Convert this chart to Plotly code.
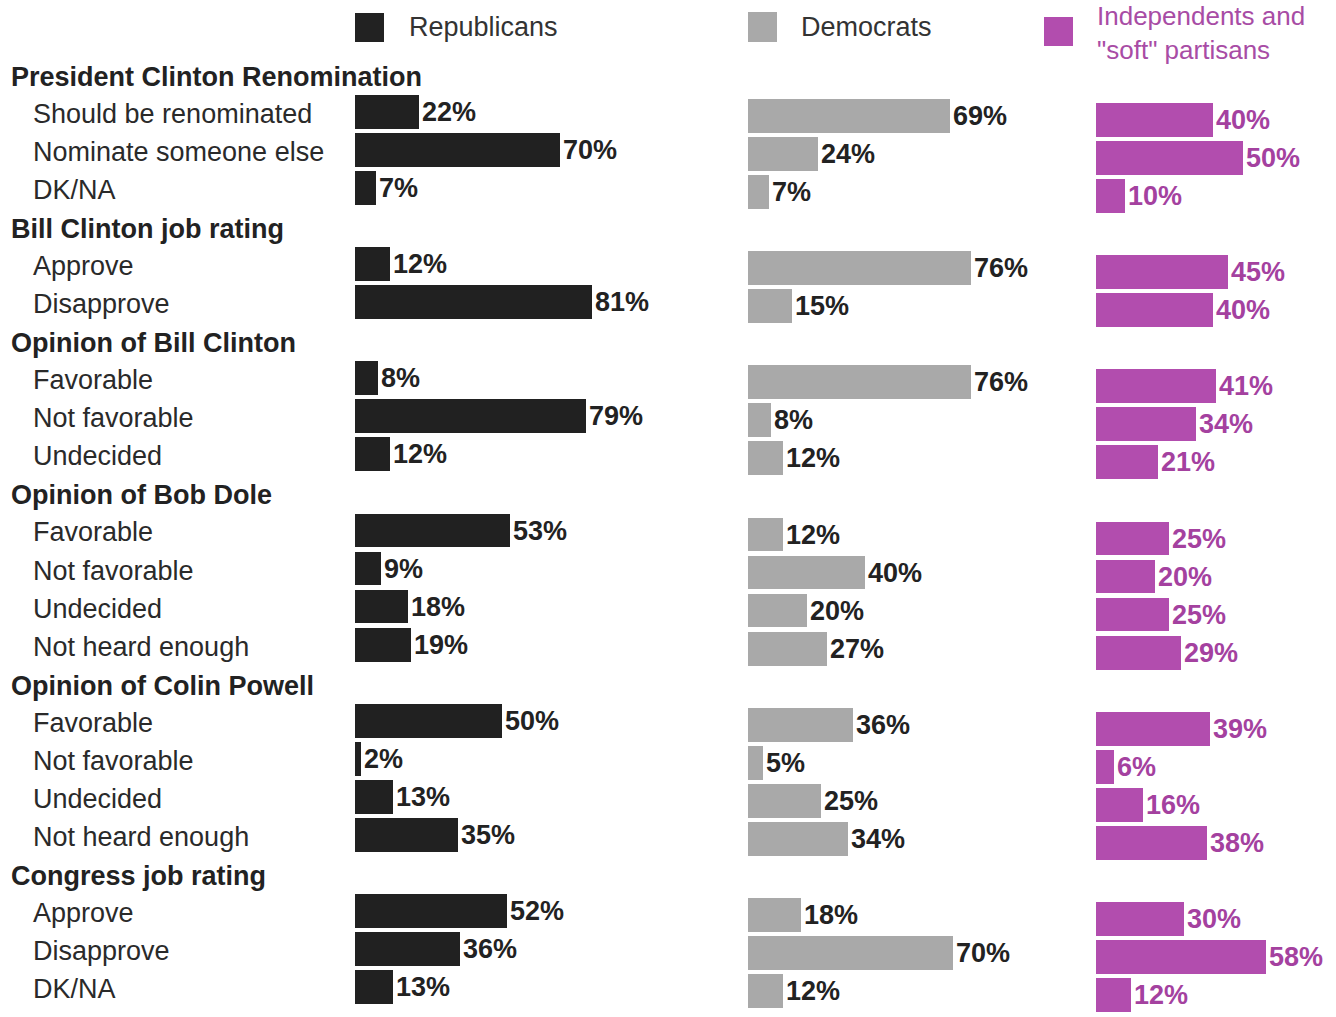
import plotly.graph_objects as go

# Survey results by party affiliation (percent)
groups = [
    "President Clinton Renomination",
    "Bill Clinton job rating",
    "Opinion of Bill Clinton",
    "Opinion of Bob Dole",
    "Opinion of Colin Powell",
    "Congress job rating",
]
group_items = [
    ["Should be renominated", "Nominate someone else", "DK/NA"],
    ["Approve", "Disapprove"],
    ["Favorable", "Not favorable", "Undecided"],
    ["Favorable", "Not favorable", "Undecided", "Not heard enough"],
    ["Favorable", "Not favorable", "Undecided", "Not heard enough"],
    ["Approve", "Disapprove", "DK/NA"],
]
republicans = [22, 70, 7, 12, 81, 8, 79, 12, 53, 9, 18, 19, 50, 2, 13, 35, 52, 36, 13]
democrats = [69, 24, 7, 76, 15, 76, 8, 12, 12, 40, 20, 27, 36, 5, 25, 34, 18, 70, 12]
independents = [40, 50, 10, 45, 40, 41, 34, 21, 25, 20, 25, 29, 39, 6, 16, 38, 30, 58, 12]
series_names = ["Republicans", "Democrats", "Independents and<br>\"soft\" partisans"]

W, H = 1336, 1017
FONT = "Liberation Sans, Arial, Helvetica, sans-serif"
ROW0, ROW_STEP = 77.0, 38.04      # pixel centre of first row, row pitch
PX_PER_PCT = 2.93

# row index for every header / item line
header_rows, item_rows = [], []
r = 0
for items in group_items:
    header_rows.append(r)
    r += 1
    for _ in items:
        item_rows.append(r)
        r += 1
item_labels = [it for items in group_items for it in items]


def px(x):
    return x / W


def py(y):
    return 1 - y / H


def y_range(shift):
    top = -(ROW0 + shift) / ROW_STEP
    bottom = (H - ROW0 - shift) / ROW_STEP
    return [bottom, top]


panels = [
    # values, bar colour, label colour, left pixel, vertical shift, x max
    (republicans, "#212121", "#222222", 355, -3, 90),
    (democrats, "#a9a9a9", "#222222", 748, 1, 90),
    (independents, "#b24dae", "#a4419f", 1096, 5, 80),
]

fig = go.Figure()
layout_axes = {}
for i, (vals, bar_col, txt_col, x0, shift, xmax) in enumerate(panels, start=1):
    sfx = "" if i == 1 else str(i)
    fig.add_trace(go.Bar(
        x=vals, y=item_rows, orientation="h",
        xaxis="x" + sfx, yaxis="y" + sfx,
        marker=dict(color=bar_col, line=dict(width=0)),
        width=0.89,
        text=[f"{v}%" for v in vals],
        textposition="outside",
        textfont=dict(family=FONT, size=27, color=txt_col, weight="bold"),
        constraintext="none",
        cliponaxis=False,
        hoverinfo="skip",
        showlegend=False,
    ))
    x1 = x0 + xmax * PX_PER_PCT
    layout_axes["xaxis" + sfx] = dict(
        domain=[px(x0), px(x1)], range=[0, xmax], anchor="y" + sfx,
        visible=False, fixedrange=True)
    layout_axes["yaxis" + sfx] = dict(
        domain=[0, 1], range=y_range(shift), anchor="x" + sfx,
        visible=False, fixedrange=True)

annotations = []
# group headers and item labels
for row, g in zip(header_rows, groups):
    annotations.append(dict(
        x=px(9), xref="paper", y=row, yref="y", yshift=-3,
        text=f"<b>{g}</b>", showarrow=False, xanchor="left", yanchor="middle",
        font=dict(family=FONT, size=27, color="#222222")))
for row, lab in zip(item_rows, item_labels):
    annotations.append(dict(
        x=px(31), xref="paper", y=row, yref="y", yshift=-2,
        text=lab, showarrow=False, xanchor="left", yanchor="middle",
        font=dict(family=FONT, size=27, color="#2a2a2a")))

# legend swatches and names
legend_specs = [
    # swatch box (x0, y0, x1, y1), colour, text x, text y, text size, colour
    ((355, 13, 384, 42), "#222222", 407, 27, 27, "#333333"),
    ((748, 12, 777, 42), "#a9a9a9", 799, 27, 27, "#333333"),
    ((1044, 17, 1073, 46), "#b24dae", 1095, 33, 26, "#a84ca5"),
]
shapes = []
for (bx0, by0, bx1, by1), col, *_ in legend_specs:
    shapes.append(dict(type="rect", xref="paper", yref="paper",
                       x0=px(bx0), x1=px(bx1), y0=py(by1), y1=py(by0),
                       fillcolor=col, line=dict(width=0)))
for name, (_, _, tx, ty, tsize, tcol) in zip(series_names, legend_specs):
    annotations.append(dict(
        x=px(tx), xref="paper", y=py(ty), yref="paper",
        text=name, showarrow=False, xanchor="left", yanchor="middle",
        align="left",
        font=dict(family=FONT, size=tsize, color=tcol)))

fig.update_layout(
    width=W, height=H,
    margin=dict(l=0, r=0, t=0, b=0),
    paper_bgcolor="white", plot_bgcolor="white",
    bargap=0, barmode="group",
    annotations=annotations, shapes=shapes,
    **layout_axes,
)

fig.write_html("out.html", config={"displayModeBar": False})
